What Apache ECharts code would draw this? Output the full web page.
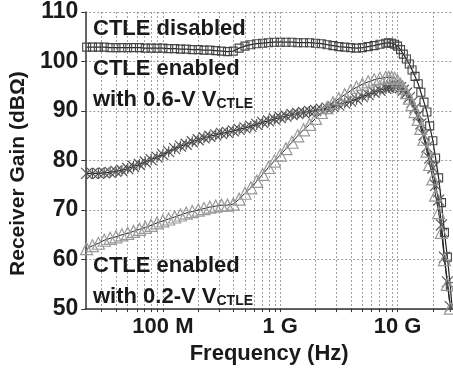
<!DOCTYPE html>
<html><head><meta charset="utf-8">
<script src="https://cdn.jsdelivr.net/npm/echarts@6/dist/echarts.min.js"></script>
<style>html,body{margin:0;padding:0;background:#fff}#c{width:453px;height:370px}</style>
</head><body><div id="c"></div>
<script>
const freqHz = [
 2.24e7,2.51e7,2.82e7,3.16e7,3.55e7,3.98e7,4.47e7,5.01e7,5.62e7,6.31e7,7.08e7,7.94e7,8.91e7,
 1.00e8,1.12e8,1.26e8,1.41e8,1.58e8,1.78e8,2.00e8,2.24e8,2.51e8,2.82e8,3.16e8,3.55e8,3.98e8,4.47e8,5.01e8,5.62e8,6.31e8,7.08e8,7.94e8,8.91e8,
 1.00e9,1.12e9,1.26e9,1.41e9,1.58e9,1.78e9,2.00e9,2.24e9,2.51e9,2.82e9,3.16e9,3.55e9,3.98e9,4.47e9,5.01e9,5.62e9,6.31e9,7.08e9,7.94e9,
 8.41e9,8.91e9,9.44e9,1.00e10,1.06e10,1.12e10,1.19e10,1.26e10,1.33e10,1.41e10,1.50e10,1.58e10,1.68e10,1.78e10,1.88e10,2.00e10,2.11e10,2.24e10,2.37e10,2.51e10,2.66e10,2.82e10,2.99e10
];
const gainDisabled = [
 102.9,102.9,102.9,102.9,102.8,102.8,102.8,102.8,102.8,102.8,102.7,102.7,102.7,
 102.7,102.6,102.6,102.5,102.5,102.4,102.4,102.3,102.3,102.2,102.1,102.0,102.1,102.7,103.1,103.4,103.6,103.7,103.8,103.9,
 103.9,103.9,103.9,103.8,103.8,103.8,103.7,103.6,103.4,103.2,103.0,102.9,102.8,102.7,102.8,103.0,103.2,103.5,103.7,
 103.8,103.7,103.5,103.1,102.4,101.5,100.5,99.5,98.3,97.0,95.5,93.8,91.8,89.8,87.0,84.0,80.5,76.5,71.5,65.5,60.5,54.5,47.0
];
const gain06V = [
 77.4,77.4,77.4,77.5,77.6,77.8,78.0,78.4,78.8,79.2,79.7,80.2,80.7,
 81.2,81.8,82.4,82.9,83.3,83.8,84.2,84.6,84.9,85.2,85.5,85.7,86.0,86.3,86.6,86.9,87.3,87.7,88.0,88.4,
 88.7,89.0,89.3,89.5,89.7,89.9,90.1,90.4,90.6,90.9,91.2,91.6,92.0,92.4,92.9,93.3,93.8,94.2,94.6,
 94.8,95.0,95.1,95.0,94.7,94.2,93.6,92.7,91.8,90.6,89.2,87.4,85.2,82.7,80.5,78.5,75.0,72.0,67.0,60.5,55.5,50.5,45.0
];
const gain02V = [
 62.2,62.8,63.3,63.9,64.3,64.6,65.0,65.3,65.7,66.1,66.5,66.9,67.4,
 67.8,68.2,68.6,69.0,69.4,69.7,70.0,70.3,70.6,70.8,71.0,71.0,71.2,72.2,73.4,74.5,75.8,77.2,78.6,79.9,
 81.1,82.4,83.7,85.0,86.2,87.3,88.5,89.7,90.7,91.7,92.5,93.3,94.1,94.8,95.4,95.9,96.3,96.6,96.8,
 96.8,96.8,96.6,96.1,95.4,94.6,93.7,92.6,91.3,89.9,88.3,86.5,84.3,81.9,79.2,76.3,73.0,69.5,65.5,60.0,55.0,50.2,45.0
];
const xTickValues = [3e7,4e7,5e7,6e7,7e7,8e7,9e7,1e8,2e8,3e8,4e8,5e8,6e8,7e8,8e8,9e8,1e9,2e9,3e9,4e9,5e9,6e9,7e9,8e9,9e9,1e10,2e10];
const xLabelValues = [1e8, 1e9, 1e10];
const xLabelTexts = ['100 M', '1 G', '10 G'];

const FONT = '"Liberation Sans", Arial, sans-serif';
const chart = echarts.init(document.getElementById('c'), null, {renderer: 'canvas'});
function mk(arr){ return freqHz.map((f,i)=>[f, arr[i]]); }
const txt = (x, y, text) => ({
  type: 'text', x: x, y: y, z: 100,
  style: { text: text, fill: '#1a1a1a', font: 'bold 22px ' + FONT, verticalAlign: 'bottom',
    rich: { s: { fontSize: 14, fontWeight: 'bold', fontFamily: FONT, fill: '#1a1a1a', verticalAlign: 'bottom' } } }
});
chart.setOption({
  animation: false,
  grid: { left: 79, right: 0, top: 12, bottom: 54 },
  xAxis: {
    type: 'log', min: 2.18e7, max: 2.97e10,
    axisLine: { show: true, onZero: false, lineStyle: { color: '#333', width: 1.5 } },
    axisTick: { show: true, inside: false, length: 3, customValues: xTickValues, lineStyle: { color: '#333' } },
    axisLabel: { customValues: xLabelValues, margin: 7, color: '#1a1a1a', fontSize: 22, fontWeight: 'bold', fontFamily: FONT,
      formatter: v => { const i = xLabelValues.findIndex(t => Math.abs(t - v) / t < 1e-6); return i >= 0 ? xLabelTexts[i] : ''; } },
    splitLine: { show: true, lineStyle: { color: '#888', type: [2, 2], width: 0.8 } },
    name: 'Frequency (Hz)', nameLocation: 'middle', nameGap: 28,
    nameTextStyle: { color: '#1a1a1a', fontSize: 22, fontWeight: 'bold', fontFamily: FONT }
  },
  yAxis: {
    type: 'value', min: 50, max: 110, interval: 10,
    axisLine: { show: true, lineStyle: { color: '#333', width: 1.5 } },
    axisTick: { show: true, inside: false, length: 4, lineStyle: { color: '#333' } },
    axisLabel: { margin: 7, color: '#1a1a1a', fontSize: 23, fontWeight: 'bold', fontFamily: FONT },
    splitLine: { show: true, lineStyle: { color: '#888', type: [2, 2], width: 0.8 } },
    name: 'Receiver Gain (dBΩ)', nameLocation: 'middle', nameGap: 51,
    nameTextStyle: { color: '#1a1a1a', fontSize: 21, fontWeight: 'bold', fontFamily: FONT, padding: [0, 26, 0, 0] }
  },
  series: [
    { name: 'CTLE disabled', type: 'line', data: mk(gainDisabled), symbol: 'rect', symbolSize: 8, clip: true,
      lineStyle: { color: '#222', width: 1.2 }, itemStyle: { color: 'rgba(0,0,0,0)', borderColor: '#444', borderWidth: 1.1 } },
    { name: 'CTLE 0.6V', type: 'line', data: mk(gain06V), symbol: 'path://M0,0L10,10M10,0L0,10M5,0L5,10', symbolSize: 11, clip: true,
      lineStyle: { color: '#222', width: 1.2 }, itemStyle: { color: 'rgba(0,0,0,0)', borderColor: '#555', borderWidth: 1.2 } },
    { name: 'CTLE 0.2V', type: 'line', data: mk(gain02V), symbol: 'triangle', symbolSize: 12, clip: true,
      lineStyle: { color: '#222', width: 1 }, itemStyle: { color: 'rgba(0,0,0,0)', borderColor: '#999', borderWidth: 1.2 } }
  ],
  graphic: [
    txt(93, 40, 'CTLE disabled'),
    txt(93, 80, 'CTLE enabled'),
    txt(93, 111, 'with 0.6-V V{s|CTLE}'),
    txt(93, 277, 'CTLE enabled'),
    txt(93, 308, 'with 0.2-V V{s|CTLE}')
  ]
});
</script></body></html>
